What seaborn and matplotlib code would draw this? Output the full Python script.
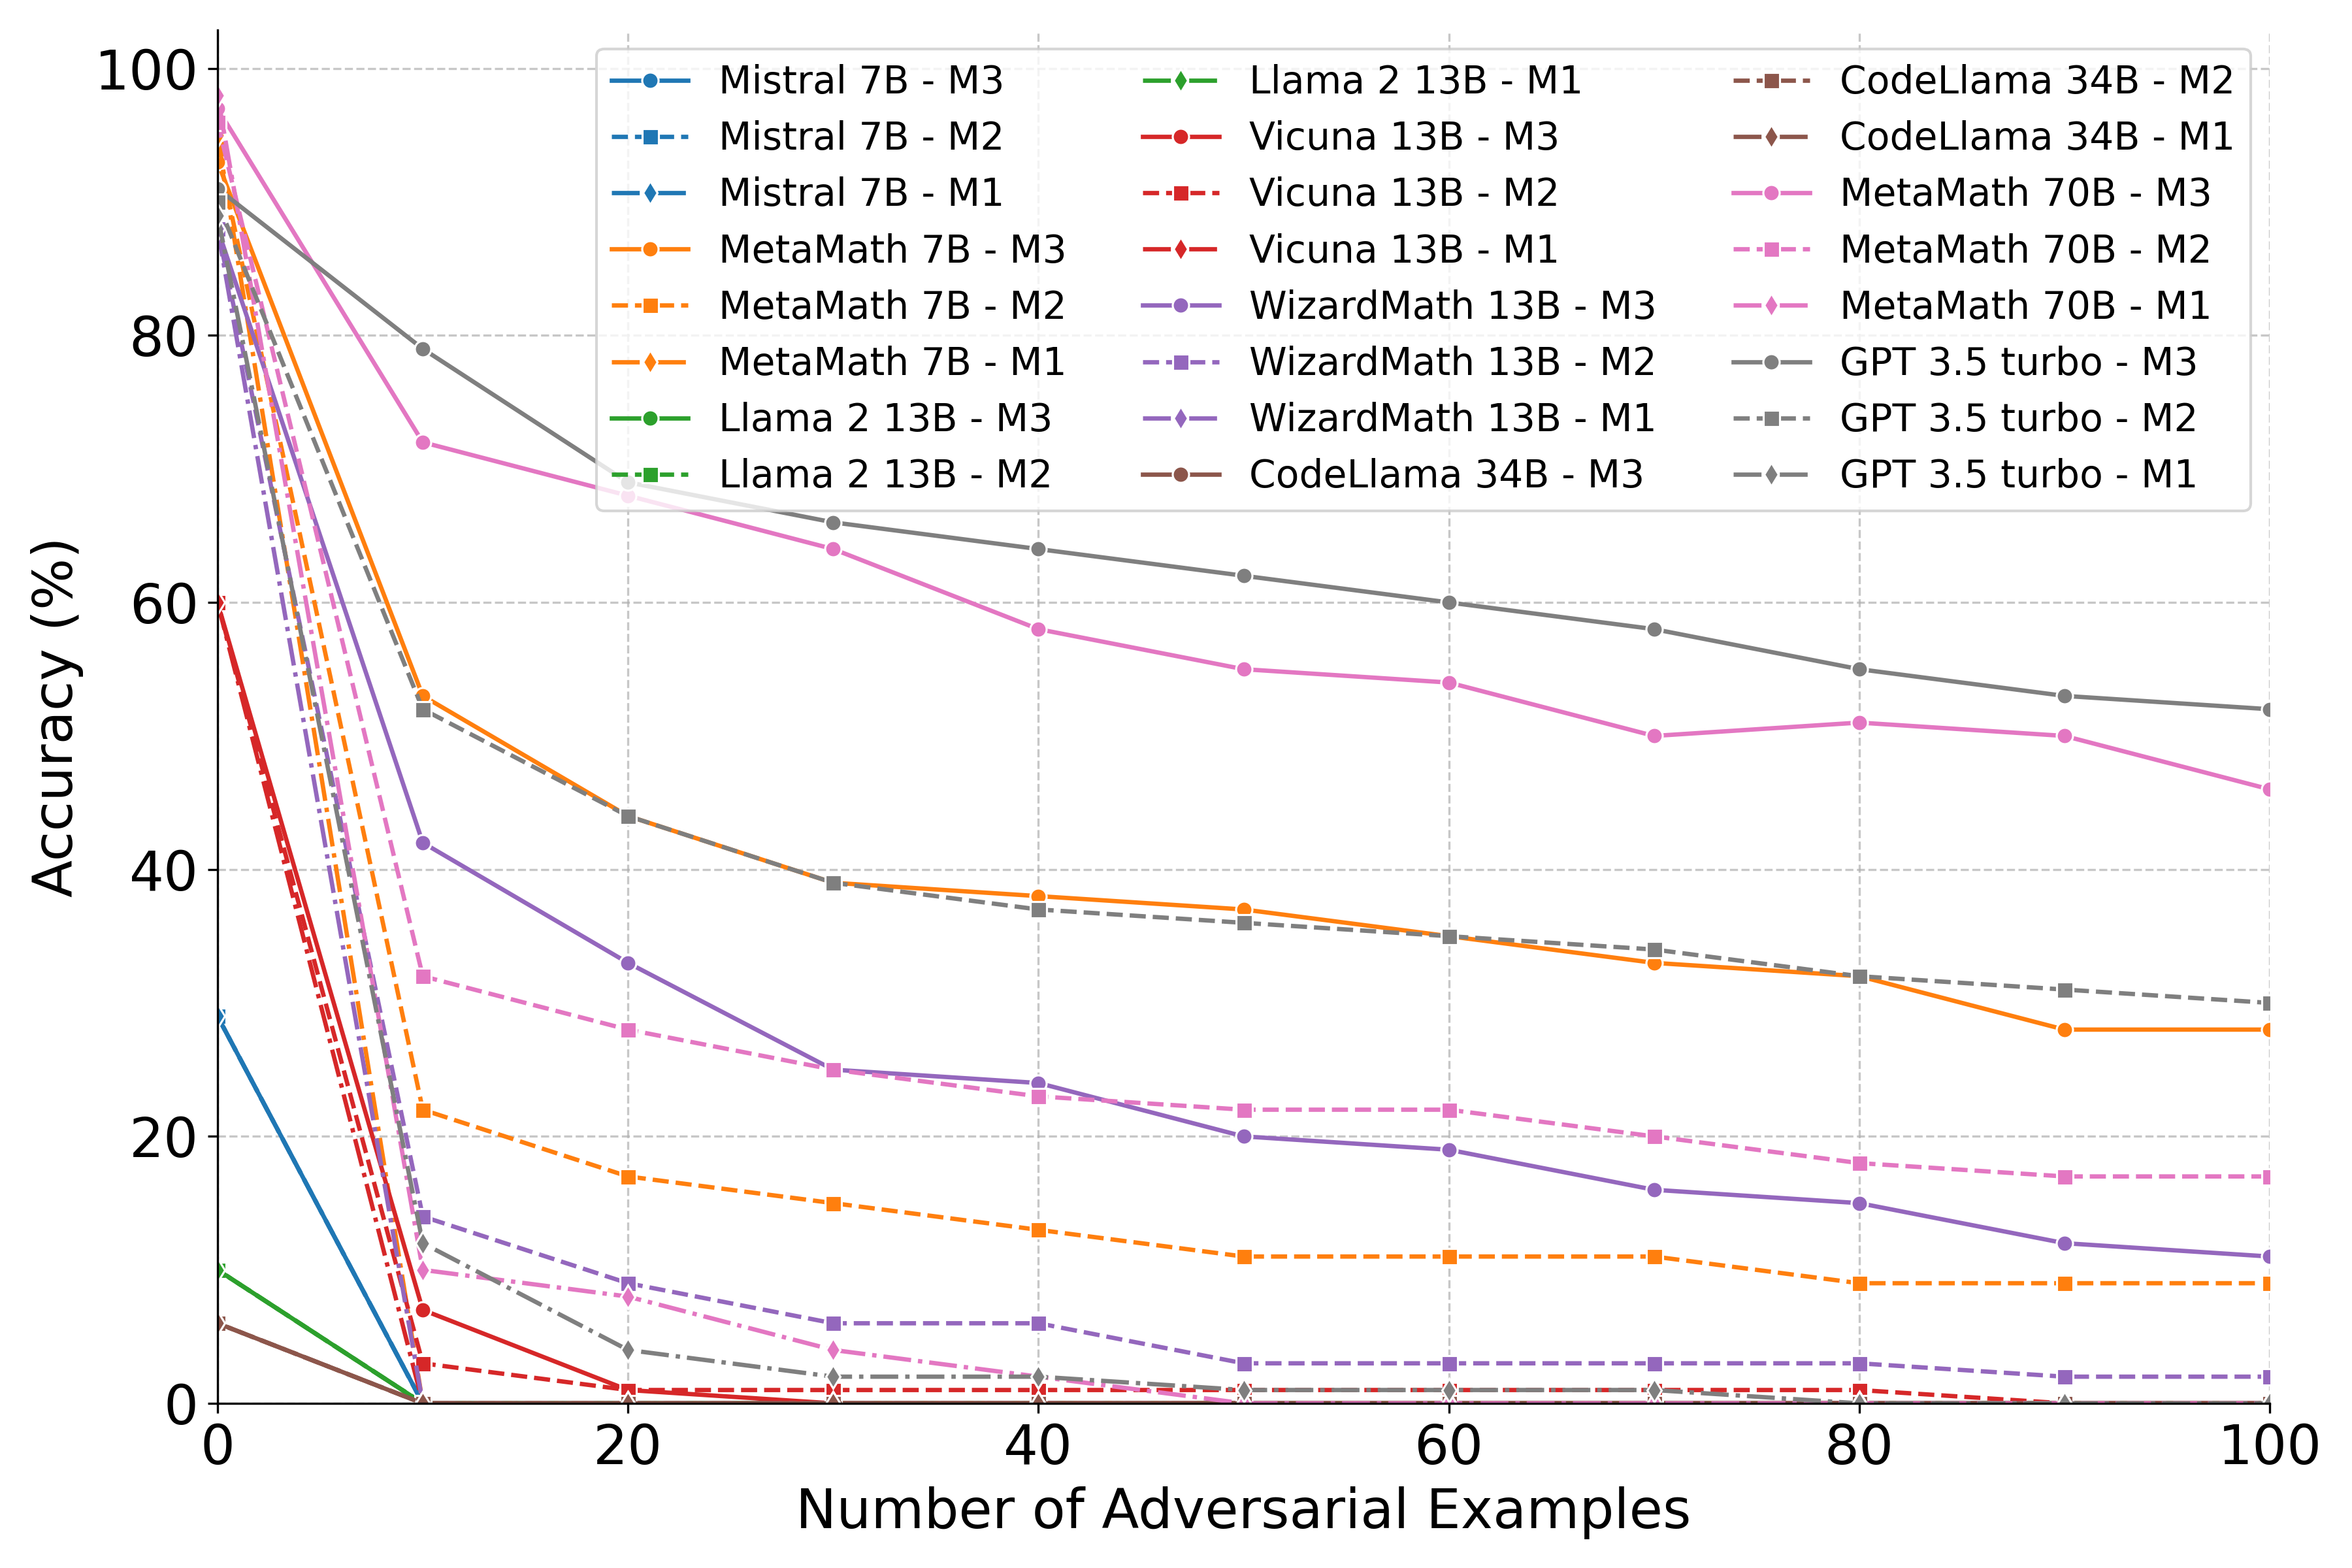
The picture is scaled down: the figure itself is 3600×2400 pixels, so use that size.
import matplotlib
matplotlib.use('Agg')
import matplotlib.pyplot as plt
import seaborn as sns

# nombre d'exemples adverses
n_adv = [0, 10, 20, 30, 40, 50, 60, 70, 80, 90, 100]

models = ['Mistral 7B', 'MetaMath 7B', 'Llama 2 13B', 'Vicuna 13B',
          'WizardMath 13B', 'CodeLlama 34B', 'MetaMath 70B', 'GPT 3.5 turbo']
methods = ['M3', 'M2', 'M1']

# précision (%) par modèle, ordre M3 / M2 / M1
mistral_7b = [
    [29, 0, 0, 0, 0, 0, 0, 0, 0, 0, 0],
    [29, 0, 0, 0, 0, 0, 0, 0, 0, 0, 0],
    [29, 0, 0, 0, 0, 0, 0, 0, 0, 0, 0],
]
metamath_7b = [
    [93, 53, 44, 39, 38, 37, 35, 33, 32, 28, 28],
    [94, 22, 17, 15, 13, 11, 11, 11, 9, 9, 9],
    [95, 0, 0, 0, 0, 0, 0, 0, 0, 0, 0],
]
llama2_13b = [
    [10, 0, 0, 0, 0, 0, 0, 0, 0, 0, 0],
    [10, 0, 0, 0, 0, 0, 0, 0, 0, 0, 0],
    [10, 0, 0, 0, 0, 0, 0, 0, 0, 0, 0],
]
vicuna_13b = [
    [60, 7, 1, 0, 0, 0, 0, 0, 0, 0, 0],
    [60, 3, 1, 1, 1, 1, 1, 1, 1, 0, 0],
    [60, 0, 0, 0, 0, 0, 0, 0, 0, 0, 0],
]
wizardmath_13b = [
    [88, 42, 33, 25, 24, 20, 19, 16, 15, 12, 11],
    [88, 14, 9, 6, 6, 3, 3, 3, 3, 2, 2],
    [88, 0, 0, 0, 0, 0, 0, 0, 0, 0, 0],
]
codellama_34b = [
    [6, 0, 0, 0, 0, 0, 0, 0, 0, 0, 0],
    [6, 0, 0, 0, 0, 0, 0, 0, 0, 0, 0],
    [6, 0, 0, 0, 0, 0, 0, 0, 0, 0, 0],
]
metamath_70b = [
    [97, 72, 68, 64, 58, 55, 54, 50, 51, 50, 46],
    [96, 32, 28, 25, 23, 22, 22, 20, 18, 17, 17],
    [98, 10, 8, 4, 2, 0, 0, 0, 0, 0, 0],
]
gpt35_turbo = [
    [91, 79, 69, 66, 64, 62, 60, 58, 55, 53, 52],
    [90, 52, 44, 39, 37, 36, 35, 34, 32, 31, 30],
    [89, 12, 4, 2, 2, 1, 1, 1, 0, 0, 0],
]

all_data = [mistral_7b, metamath_7b, llama2_13b, vicuna_13b,
            wizardmath_13b, codellama_34b, metamath_70b, gpt35_turbo]

colors = sns.color_palette('tab10', len(models))
styles = {'M3': ('-', 'o'), 'M2': ('--', 's'), 'M1': ('-.', 'd')}

plt.rcParams['font.family'] = ['DejaVu Sans']
fig, ax = plt.subplots(figsize=(12, 8), dpi=300)

for model, data, color in zip(models, all_data, colors):
    for method, acc in zip(methods, data):
        ls, mk = styles[method]
        sns.lineplot(x=n_adv, y=acc, ax=ax, color=color, linestyle=ls,
                     marker=mk, markersize=6, linewidth=1.6,
                     label=f'{model} - {method}')

ax.set_xlim(0, 100)
ax.set_ylim(0, None)
ax.set_xlabel('Number of Adversarial Examples', fontsize=20)
ax.set_ylabel('Accuracy (%)', fontsize=20)
ax.tick_params(labelsize=20)
ax.grid(True, linestyle='--', alpha=0.7)
sns.despine(ax=ax)
ax.legend(ncol=3, fontsize=14, loc='upper right')

plt.subplots_adjust(left=0.0925, right=0.965, bottom=0.105, top=0.981)
plt.savefig('out.png', dpi=300)
plt.close()
